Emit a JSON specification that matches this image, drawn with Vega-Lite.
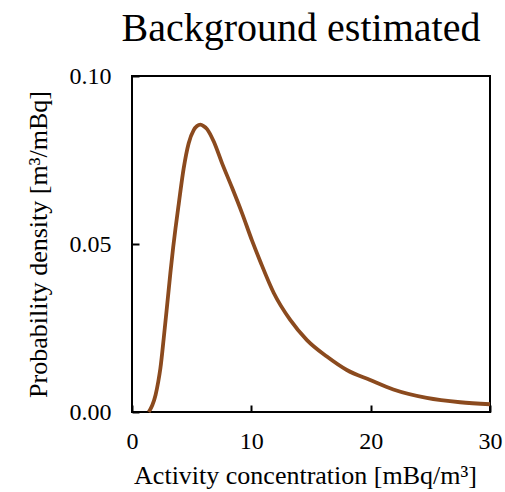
{
  "$schema": "https://vega.github.io/schema/vega-lite/v6.json",
  "width": 358,
  "height": 336,
  "autosize": "none",
  "padding": {"left": 132, "top": 76, "right": 15, "bottom": 80},
  "background": "white",
  "config": {
    "font": "Liberation Serif",
    "view": {"stroke": "black", "strokeWidth": 2},
    "axis": {
      "grid": false,
      "domain": false,
      "tickColor": "black",
      "tickWidth": 2,
      "tickSize": -7,
      "labelColor": "black",
      "titleColor": "black",
      "labelFont": "Liberation Serif",
      "titleFont": "Liberation Serif",
      "labelFontSize": 24,
      "titleFontSize": 26,
      "titleFontWeight": "normal"
    }
  },
  "title": {
    "text": "Background estimated",
    "font": "Liberation Serif",
    "fontSize": 40,
    "fontWeight": "normal",
    "color": "black",
    "anchor": "middle",
    "dx": -10,
    "offset": 15
  },
  "data": {
    "values": [
      {"x": 1.4, "y": 0.0},
      {"x": 1.7, "y": 0.002},
      {"x": 1.97, "y": 0.005},
      {"x": 2.2, "y": 0.009},
      {"x": 2.38, "y": 0.013},
      {"x": 2.66, "y": 0.022},
      {"x": 2.95, "y": 0.032},
      {"x": 3.22, "y": 0.0415},
      {"x": 3.45, "y": 0.049},
      {"x": 3.64, "y": 0.0545},
      {"x": 3.92, "y": 0.062},
      {"x": 4.33, "y": 0.0725},
      {"x": 4.75, "y": 0.080},
      {"x": 5.17, "y": 0.0839},
      {"x": 5.45, "y": 0.0851},
      {"x": 5.73, "y": 0.0855},
      {"x": 6.0, "y": 0.0851},
      {"x": 6.29, "y": 0.0842},
      {"x": 6.85, "y": 0.0805},
      {"x": 7.55, "y": 0.074},
      {"x": 8.38, "y": 0.0668},
      {"x": 9.22, "y": 0.0592},
      {"x": 10.06, "y": 0.051},
      {"x": 10.75, "y": 0.0448},
      {"x": 11.87, "y": 0.0355},
      {"x": 13.26, "y": 0.0274},
      {"x": 14.66, "y": 0.0214},
      {"x": 16.33, "y": 0.0165},
      {"x": 18.0, "y": 0.0125},
      {"x": 19.96, "y": 0.0095},
      {"x": 21.9, "y": 0.0067},
      {"x": 24.7, "y": 0.0042},
      {"x": 27.5, "y": 0.0029},
      {"x": 30, "y": 0.0023}
    ]
  },
  "mark": {"type": "line", "color": "#8B4A1E", "strokeWidth": 3.8, "interpolate": "monotone"},
  "encoding": {
    "x": {
      "field": "x",
      "type": "quantitative",
      "scale": {"domain": [0, 30], "nice": false},
      "axis": {
        "values": [0, 10, 20, 30],
        "labelFlush": false,
        "labelFont": "Liberation Serif",
        "titleFont": "Liberation Serif",
        "labelPadding": 24,
        "title": "Activity concentration [mBq/m³]",
        "titleX": 173,
        "titlePadding": 9
      }
    },
    "y": {
      "field": "y",
      "type": "quantitative",
      "scale": {"domain": [0, 0.1], "nice": false},
      "axis": {
        "values": [0, 0.05, 0.1],
        "labelFlush": false,
        "format": ".2f",
        "labelFont": "Liberation Serif",
        "titleFont": "Liberation Serif",
        "labelPadding": 28,
        "title": "Probability density [m³/mBq]",
        "titlePadding": 18
      }
    }
  }
}
